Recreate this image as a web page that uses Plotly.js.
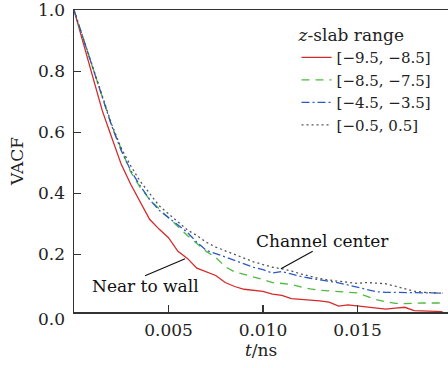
<!DOCTYPE html>
<html>
<head>
<meta charset="utf-8">
<script src="https://cdn.plot.ly/plotly-3.0.1.min.js"></script>
<style>html,body{margin:0;padding:0;background:#fff;}#chart{width:448px;height:368px;}</style>
</head>
<body>
<div id="chart"></div>
<script>
// time axis (ns)
const tNs = [0,0.0005,0.001,0.0015,0.002,0.0025,0.003,0.0035,0.004,0.0045,
  0.005,0.0055,0.006,0.0065,0.007,0.0075,0.008,0.0085,0.009,0.0095,
  0.010,0.0105,0.011,0.0115,0.012,0.0125,0.013,0.0135,0.014,0.0145,
  0.015,0.0155,0.016,0.0165,0.017,0.0175,0.018,0.0185,0.019,0.0195];

const seriesNames = ["[−9.5, −8.5]","[−8.5, −7.5]","[−4.5, −3.5]","[−0.5, 0.5]"];

const vacfWall = [1.0,0.89,0.78,0.67,0.582,0.495,0.43,0.375,0.315,0.283,
  0.255,0.21,0.187,0.155,0.143,0.131,0.108,0.095,0.086,0.082,
  0.079,0.07,0.066,0.055,0.053,0.051,0.048,0.044,0.031,0.035,
  0.032,0.028,0.024,0.021,0.024,0.027,0.016,0.015,0.014,0.013];

const vacfNearWall = [1.0,0.903,0.81,0.715,0.62,0.545,0.47,0.42,0.38,0.35,
  0.32,0.29,0.262,0.236,0.21,0.19,0.16,0.143,0.135,0.128,
  0.118,0.108,0.106,0.102,0.094,0.087,0.083,0.08,0.079,0.076,
  0.074,0.062,0.052,0.045,0.04,0.039,0.041,0.041,0.041,0.041];

const vacfMid = [1.0,0.903,0.81,0.715,0.62,0.54,0.475,0.425,0.38,0.345,
  0.32,0.295,0.272,0.24,0.213,0.203,0.192,0.18,0.168,0.158,
  0.150,0.139,0.144,0.135,0.128,0.122,0.118,0.112,0.107,0.1,
  0.093,0.087,0.078,0.076,0.076,0.075,0.074,0.074,0.074,0.073];

const vacfCenter = [1.0,0.905,0.815,0.72,0.625,0.548,0.49,0.44,0.40,0.36,
  0.333,0.305,0.28,0.262,0.24,0.224,0.212,0.198,0.186,0.176,
  0.167,0.158,0.153,0.146,0.136,0.128,0.121,0.116,0.112,0.107,
  0.105,0.108,0.106,0.104,0.096,0.088,0.08,0.076,0.074,0.073];

const xTicks = [0.005,0.010,0.015];
const xTickText = ["0.005","0.010","0.015"];
const yTicks = [0.2,0.4,0.6,0.8,1.0];
const yTickText = ["0.2","0.4","0.6","0.8","1.0"];

const FONT = "DejaVu Serif, Liberation Serif, serif";

const styles = [
  {color:"#d42a2a", dash:"solid"},
  {color:"#4dba3f", dash:"8px,6px"},
  {color:"#2a5ac8", dash:"8px,3px,2px,3px"},
  {color:"#555555", dash:"2px,3px"}
];
const ys = [vacfWall, vacfNearWall, vacfMid, vacfCenter];

const data = ys.map((y,i)=>({
  x: tNs, y: y, type:"scatter", mode:"lines", name: seriesNames[i],
  line:{color:styles[i].color, dash:styles[i].dash, width:1.3}
}));

const layout = {
  width:448, height:368,
  margin:{l:74, r:0, t:10, b:56},
  paper_bgcolor:"#fff", plot_bgcolor:"#fff",
  font:{family:FONT, size:17, color:"#222"},
  showlegend:true,
  legend:{
    x:0.595, xanchor:"left", y:0.97, yanchor:"top",
    bgcolor:"rgba(0,0,0,0)", borderwidth:0,
    font:{family:FONT, size:15, color:"#222"},
    title:{text:"<i>z</i>-slab range", font:{family:FONT, size:17, color:"#222"}},
    tracegroupgap:0
  },
  xaxis:{
    range:[0,0.01979], showgrid:false, zeroline:false,
    showline:true, linecolor:"#333", linewidth:1.5, mirror:true,
    ticks:"inside", ticklen:7, tickcolor:"#333", tickwidth:1.3,
    tickvals:xTicks, ticktext:xTickText,
    tickfont:{family:FONT, size:17, color:"#222"},
    ticklabelstandoff:2,
    title:{text:"<i>t</i>/ns", font:{family:FONT, size:17, color:"#222"}, standoff:0}
  },
  yaxis:{
    range:[0.0115,1.0005], showgrid:false, zeroline:false,
    showline:true, linecolor:"#333", linewidth:1.5, mirror:true,
    ticks:"inside", ticklen:7, tickcolor:"#333", tickwidth:1.3,
    tickvals:yTicks, ticktext:yTickText,
    tickfont:{family:FONT, size:17, color:"#222"},
    ticklabelstandoff:4,
    title:{text:"VACF", font:{family:FONT, size:17, color:"#222"}, standoff:10}
  },
  annotations:[
    {xref:"paper", yref:"paper", x:-0.02, y:-0.022, xanchor:"right", yanchor:"middle",
     text:"0.0", showarrow:false, font:{family:FONT, size:17, color:"#222"}},
    {xref:"x", yref:"y", x:0.00377, y:0.097, text:"Near to wall", showarrow:false,
     font:{family:FONT, size:17, color:"#111"}},
    {xref:"x", yref:"y", x:0.00588, y:0.186, axref:"x", ayref:"y", ax:0.00368, ay:0.128,
     text:"", showarrow:true, arrowhead:0, arrowwidth:1.2, arrowcolor:"#111", standoff:0, startstandoff:0},
    {xref:"x", yref:"y", x:0.01313, y:0.245, text:"Channel center", showarrow:false,
     font:{family:FONT, size:17, color:"#111"}},
    {xref:"x", yref:"y", x:0.01095, y:0.153, axref:"x", ayref:"y", ax:0.01271, ay:0.213,
     text:"", showarrow:true, arrowhead:0, arrowwidth:1.2, arrowcolor:"#111", standoff:0, startstandoff:0}
  ]
};

Plotly.newPlot("chart", data, layout, {displayModeBar:false, staticPlot:true});
</script>
</body>
</html>
